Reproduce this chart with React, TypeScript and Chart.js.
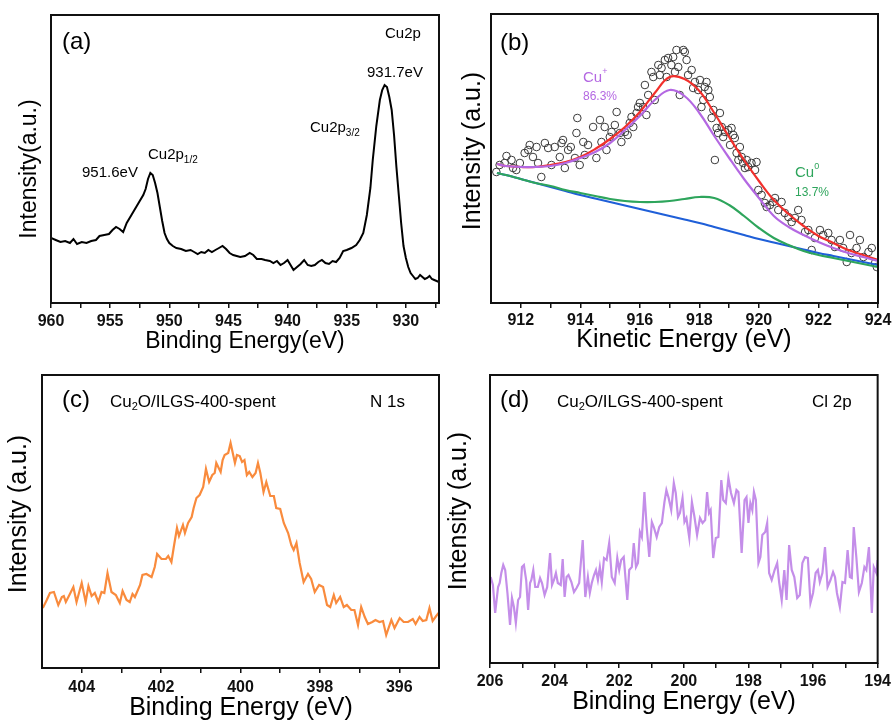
import React, { useEffect, useRef } from 'react';
import { Chart, registerables } from 'chart.js';
Chart.register(...registerables);

const FONT = '"Liberation Sans", Arial, Helvetica, sans-serif';

// ---------- Panel (a): Cu2p survey ----------
const aEnergy = [960.0, 959.6, 959.2, 958.8, 958.4, 958.1, 957.8, 957.4, 957.0, 956.6, 956.2, 955.9, 955.5, 955.1, 954.8, 954.5, 954.2, 953.9, 953.6, 953.2, 952.8, 952.5, 952.2, 952.0, 951.8, 951.6, 951.4, 951.2, 951.0, 950.8, 950.6, 950.4, 950.2, 950.0, 949.7, 949.4, 949.0, 948.6, 948.2, 947.9, 947.6, 947.3, 947.0, 946.7, 946.4, 946.1, 945.8, 945.5, 945.2, 944.9, 944.6, 944.3, 944.0, 943.6, 943.2, 942.9, 942.6, 942.2, 941.9, 941.5, 941.2, 940.9, 940.6, 940.3, 940.0, 939.8, 939.5, 939.2, 938.9, 938.6, 938.3, 938.0, 937.7, 937.4, 937.1, 936.8, 936.5, 936.2, 935.9, 935.6, 935.3, 935.0, 934.6, 934.2, 933.9, 933.6, 933.3, 933.0, 932.8, 932.5, 932.2, 932.0, 931.8, 931.6, 931.4, 931.2, 931.0, 930.8, 930.6, 930.4, 930.2, 930.0, 929.8, 929.6, 929.4, 929.2, 929.0, 928.8, 928.6, 928.4, 928.2, 928.0, 927.8, 927.6, 927.4, 927.2];
const aIntensity = [65, 63, 61, 62, 60, 64, 59, 61, 60, 62, 63, 67, 68, 69, 73, 76, 74, 71, 80, 88, 96, 102, 108, 114, 124, 130, 128, 120, 110, 96, 82, 70, 64, 60, 57, 55, 54, 52, 53, 51, 49, 51, 50, 53, 51, 53, 55, 57, 54, 50, 48, 47, 46, 47, 50, 48, 44, 44, 43, 42, 40, 42, 38, 40, 43, 39, 33, 36, 39, 43, 38, 37, 38, 41, 43, 40, 39, 42, 41, 45, 52, 53, 55, 58, 63, 70, 88, 115, 143, 177, 203, 213, 218, 216, 206, 193, 168, 136, 108, 80, 57, 45, 36, 30, 27, 24, 25, 28, 26, 24, 25, 27, 24, 23, 22, 21];
const aTicks = [960, 957.5, 955, 952.5, 950, 947.5, 945, 942.5, 940, 937.5, 935, 932.5, 930, 927.5];
const aTickLabels = [960, 955, 950, 945, 940, 935, 930];

// ---------- Panel (b): Cu LMM ----------
const bScatterE = [911.18, 911.29, 911.46, 911.52, 911.69, 911.74, 911.85, 911.97, 912.13, 912.25, 912.30, 912.41, 912.53, 912.58, 912.69, 912.81, 912.92, 913.03, 913.14, 913.31, 913.37, 913.42, 913.48, 913.59, 913.68, 913.82, 913.87, 913.90, 913.98, 914.10, 914.15, 914.26, 914.43, 914.54, 914.66, 914.71, 914.82, 914.88, 914.99, 915.05, 915.16, 915.22, 915.33, 915.38, 915.50, 915.59, 915.66, 915.72, 915.78, 915.89, 915.94, 916.00, 916.11, 916.17, 916.22, 916.28, 916.39, 916.45, 916.50, 916.62, 916.67, 916.73, 916.84, 916.90, 916.95, 917.06, 917.12, 917.18, 917.23, 917.29, 917.34, 917.46, 917.51, 917.57, 917.62, 917.74, 917.79, 917.85, 917.96, 918.02, 918.07, 918.13, 918.18, 918.24, 918.30, 918.35, 918.41, 918.47, 918.52, 918.58, 918.63, 918.69, 918.75, 918.80, 918.86, 918.97, 919.03, 919.08, 919.14, 919.19, 919.25, 919.31, 919.36, 919.42, 919.47, 919.53, 919.59, 919.64, 919.75, 919.87, 919.92, 919.98, 920.09, 920.20, 920.26, 920.37, 920.48, 920.54, 920.65, 920.76, 920.87, 920.99, 921.10, 921.21, 921.32, 921.43, 921.55, 921.66, 921.77, 921.88, 922.05, 922.16, 922.33, 922.44, 922.55, 922.72, 922.83, 922.95, 923.06, 923.11, 923.28, 923.39, 923.51, 923.68, 923.79, 923.90, 923.96];
const bScatterI = [131, 138, 140, 147, 143, 135, 133, 140, 150, 153, 158, 146, 156, 140, 126, 160, 155, 138, 156, 146, 160, 163, 135, 153, 156, 145, 170, 185, 138, 161, 148, 158, 176, 145, 183, 161, 176, 153, 166, 171, 178, 191, 170, 161, 171, 168, 180, 186, 176, 190, 196, 200, 196, 218, 188, 208, 231, 226, 203, 238, 228, 235, 243, 226, 245, 238, 246, 231, 253, 236, 208, 253, 251, 243, 228, 233, 215, 221, 213, 223, 196, 203, 216, 221, 213, 206, 185, 193, 143, 175, 170, 190, 176, 166, 171, 173, 158, 175, 168, 165, 150, 143, 156, 146, 140, 135, 143, 136, 140, 133, 141, 113, 108, 100, 96, 98, 101, 105, 93, 101, 90, 86, 81, 85, 93, 83, 71, 73, 53, 65, 73, 68, 70, 63, 56, 63, 55, 41, 68, 50, 55, 63, 46, 51, 55, 40, 36];
const bFitE = [911.2, 911.5, 912, 912.5, 913, 913.5, 914, 914.5, 915, 915.5, 916, 916.5, 917, 917.5, 918, 918.5, 919, 919.5, 920, 920.5, 921, 921.5, 922, 922.5, 923, 923.5, 924];
const bEnvelope = [139, 137, 136, 136, 138, 141, 146, 154, 164, 176, 191, 210, 226, 224, 212, 190, 166, 143, 122, 103, 89, 77, 67, 60, 53, 48, 43];
const bCuPlus = [139, 137, 136, 136, 137, 140, 145, 151, 160, 173, 187, 203, 213, 207, 190, 167, 145, 124, 105, 87, 76, 68, 61, 55, 50, 46, 42];
const bCu0 = [130, 128, 124, 120, 117, 113, 110, 107, 104, 102, 101, 101, 102, 104, 106, 105, 98, 87, 75, 65, 58, 52, 48, 45, 42, 39, 36];
const bBackground = [130, 128, 124, 120, 116, 112, 108, 104.5, 101, 97.5, 94, 90.5, 87, 83.5, 80, 76, 72, 68, 64, 60.5, 57, 53.5, 50, 47, 44, 41, 38];
const bTicks = [912, 913, 914, 915, 916, 917, 918, 919, 920, 921, 922, 923, 924];
const bTickLabels = [912, 914, 916, 918, 920, 922, 924];

// ---------- Panel (c): N 1s ----------
const cEnergy = [404.98, 404.88, 404.80, 404.70, 404.59, 404.50, 404.45, 404.40, 404.31, 404.21, 404.13, 404.00, 403.90, 403.83, 403.75, 403.67, 403.58, 403.50, 403.43, 403.35, 403.25, 403.14, 403.04, 402.97, 402.87, 402.79, 402.72, 402.66, 402.53, 402.47, 402.37, 402.24, 402.16, 402.10, 401.99, 401.88, 401.82, 401.74, 401.68, 401.60, 401.55, 401.45, 401.40, 401.32, 401.23, 401.18, 401.11, 401.03, 400.94, 400.87, 400.79, 400.71, 400.65, 400.61, 400.50, 400.45, 400.40, 400.31, 400.25, 400.14, 400.09, 400.02, 399.96, 399.90, 399.84, 399.78, 399.70, 399.62, 399.56, 399.50, 399.42, 399.35, 399.25, 399.16, 399.10, 399.00, 398.91, 398.80, 398.72, 398.66, 398.59, 398.51, 398.41, 398.30, 398.22, 398.13, 398.02, 397.92, 397.82, 397.74, 397.65, 397.59, 397.49, 397.40, 397.32, 397.21, 397.13, 397.04, 396.96, 396.87, 396.79, 396.68, 396.60, 396.50, 396.41, 396.33, 396.20, 396.12, 395.99, 395.89, 395.78, 395.66, 395.59, 395.49, 395.41, 395.32, 395.24, 395.16, 395.07, 395.01];
const cIntensity = [60, 68, 75, 76, 63, 71, 72, 66, 73, 81, 66, 85, 66, 82, 72, 75, 66, 76, 75, 95, 76, 73, 65, 77, 68, 66, 74, 71, 83, 93, 94, 91, 101, 114, 109, 109, 112, 106, 121, 140, 132, 143, 135, 145, 151, 160, 170, 173, 181, 199, 186, 193, 195, 205, 196, 208, 213, 215, 225, 205, 213, 212, 206, 208, 193, 196, 191, 195, 205, 195, 176, 186, 172, 172, 160, 159, 145, 135, 123, 118, 125, 105, 86, 94, 89, 76, 83, 81, 63, 61, 73, 65, 71, 61, 63, 58, 58, 43, 61, 51, 44, 46, 48, 46, 47, 33, 48, 40, 50, 46, 46, 49, 44, 51, 47, 48, 60, 47, 52, 55];
const cTicks = [404, 403, 402, 401, 400, 399, 398, 397, 396];
const cTickLabels = [404, 402, 400, 398, 396];

// ---------- Panel (d): Cl 2p ----------
const dEnergy = [205.98, 205.91, 205.84, 205.75, 205.70, 205.65, 205.59, 205.53, 205.46, 205.38, 205.32, 205.26, 205.20, 205.13, 205.07, 205.01, 204.95, 204.88, 204.82, 204.76, 204.72, 204.66, 204.60, 204.52, 204.45, 204.39, 204.31, 204.23, 204.14, 204.08, 204.02, 203.96, 203.90, 203.81, 203.75, 203.69, 203.63, 203.57, 203.48, 203.40, 203.32, 203.24, 203.13, 203.05, 202.97, 202.91, 202.85, 202.78, 202.72, 202.66, 202.60, 202.54, 202.47, 202.39, 202.31, 202.23, 202.14, 202.06, 202.00, 201.94, 201.86, 201.75, 201.69, 201.61, 201.55, 201.48, 201.42, 201.36, 201.30, 201.22, 201.15, 201.07, 200.99, 200.93, 200.84, 200.76, 200.68, 200.60, 200.54, 200.47, 200.39, 200.31, 200.25, 200.18, 200.12, 200.04, 199.98, 199.92, 199.83, 199.75, 199.67, 199.59, 199.50, 199.42, 199.34, 199.28, 199.22, 199.17, 199.09, 199.01, 198.93, 198.84, 198.78, 198.70, 198.62, 198.54, 198.45, 198.37, 198.31, 198.21, 198.12, 198.06, 198.00, 197.94, 197.88, 197.83, 197.77, 197.69, 197.63, 197.57, 197.48, 197.42, 197.36, 197.28, 197.19, 197.11, 197.05, 196.97, 196.89, 196.82, 196.74, 196.66, 196.58, 196.49, 196.41, 196.33, 196.25, 196.16, 196.08, 196.00, 195.92, 195.85, 195.79, 195.71, 195.63, 195.55, 195.46, 195.38, 195.32, 195.26, 195.17, 195.09, 195.01, 194.93, 194.86, 194.80, 194.74, 194.66, 194.58, 194.49, 194.41, 194.35, 194.27, 194.18, 194.12, 194.04, 194.00];
const dIntensity = [86, 78, 50, 76, 80, 90, 98, 93, 70, 38, 65, 56, 40, 63, 66, 96, 98, 83, 53, 80, 83, 93, 76, 76, 85, 80, 68, 76, 110, 78, 83, 90, 80, 78, 104, 66, 86, 88, 81, 71, 75, 80, 123, 66, 86, 70, 80, 88, 93, 83, 96, 81, 105, 103, 120, 86, 80, 105, 93, 103, 106, 63, 93, 96, 120, 96, 100, 131, 126, 171, 136, 106, 141, 136, 126, 136, 140, 161, 173, 165, 153, 180, 170, 146, 150, 165, 141, 145, 125, 161, 146, 128, 145, 140, 143, 171, 150, 153, 105, 125, 126, 183, 163, 160, 185, 170, 160, 173, 171, 110, 163, 166, 140, 160, 153, 171, 163, 100, 106, 128, 131, 140, 90, 83, 93, 100, 81, 63, 93, 63, 118, 93, 86, 65, 68, 100, 106, 105, 60, 70, 90, 93, 81, 90, 116, 76, 83, 91, 86, 70, 56, 81, 80, 113, 86, 85, 136, 106, 71, 80, 96, 93, 116, 50, 96, 90, 103];
const dTicks = [206, 205, 204, 203, 202, 201, 200, 199, 198, 197, 196, 195, 194];
const dTickLabels = [206, 204, 202, 200, 198, 196, 194];

// ---------- helpers ----------
type Seg = { t: string; s: number; dy?: number };
type Label = { x: number; y: number; segs: Seg[]; color?: string; align?: 'left' | 'center'; rot?: boolean };

const pts = (xs: number[], ys: number[]) => xs.map((x, i) => ({ x, y: ys[i] }));
const txt = (x: number, y: number, t: string, s: number, extra: Partial<Label> = {}): Label => ({ x, y, segs: [{ t, s }], ...extra });

function drawRich(ctx: CanvasRenderingContext2D, L: Label, ox: number, oy: number) {
  ctx.save();
  ctx.fillStyle = L.color || '#000';
  ctx.textBaseline = 'middle';
  ctx.textAlign = 'left';
  let w = 0;
  for (const s of L.segs) {
    ctx.font = `${s.s}px ${FONT}`;
    w += ctx.measureText(s.t).width;
  }
  ctx.translate(L.x - ox, L.y - oy);
  if (L.rot) ctx.rotate(-Math.PI / 2);
  let x = L.align === 'center' ? -w / 2 : 0;
  for (const s of L.segs) {
    ctx.font = `${s.s}px ${FONT}`;
    ctx.fillText(s.t, x, s.dy || 0);
    x += ctx.measureText(s.t).width;
  }
  ctx.restore();
}

type Spec = {
  ox: number; oy: number; w: number; h: number;
  left: number; top: number; right: number; bottom: number;
  xmin: number; xmax: number; reverse: boolean; ymax: number;
  ticks: number[]; tickLabels: number[]; tickPad: number;
  datasets: any[]; labels: Label[];
};

function buildConfig(sp: Spec): any {
  const decor = {
    id: 'decor',
    afterDraw(chart: any) {
      const { ctx, chartArea: a } = chart;
      ctx.save();
      ctx.strokeStyle = '#111';
      ctx.lineWidth = 2;
      ctx.strokeRect(a.left, a.top, a.right - a.left, a.bottom - a.top);
      ctx.restore();
      for (const L of sp.labels) drawRich(ctx, L, sp.ox, sp.oy);
    },
  };
  return {
    type: 'scatter',
    data: { datasets: sp.datasets },
    options: {
      animation: false,
      responsive: false,
      maintainAspectRatio: false,
      devicePixelRatio: 1,
      events: [],
      layout: { padding: { left: sp.left, top: sp.top, right: sp.w - sp.right, bottom: 0 } },
      plugins: { legend: { display: false }, tooltip: { enabled: false } },
      scales: {
        x: {
          type: 'linear',
          min: sp.xmin,
          max: sp.xmax,
          reverse: sp.reverse,
          afterBuildTicks: (ax: any) => { ax.ticks = sp.ticks.map((v) => ({ value: v })); },
          afterFit: (ax: any) => { ax.height = sp.h - sp.bottom; },
          grid: { display: true, drawOnChartArea: false, drawTicks: true, tickLength: 5, color: '#111', lineWidth: 1.5 },
          border: { display: false },
          ticks: {
            autoSkip: false,
            maxRotation: 0,
            padding: sp.tickPad,
            color: '#111',
            font: { family: FONT, size: 16, weight: 'bold' },
            callback: (v: number) => (sp.tickLabels.some((t) => Math.abs(t - v) < 1e-6) ? String(v) : ''),
          },
          title: { display: false },
        },
        y: { display: false, min: 0, max: sp.ymax },
      },
    },
    plugins: [decor],
  };
}

const lineDs = (data: any[], color: string, width: number, order: number, tension = 0) => ({
  data, showLine: true, borderColor: color, backgroundColor: color, borderWidth: width,
  pointRadius: 0, tension, order, fill: false,
});

const PURPLE = '#b468e2';
const GREEN = '#2ea55c';

const specs: Spec[] = [
  {
    ox: 0, oy: 0, w: 447, h: 361, left: 51, top: 15, right: 439, bottom: 303,
    xmin: 927.2, xmax: 960, reverse: true, ymax: 288,
    ticks: aTicks, tickLabels: aTickLabels, tickPad: 4,
    datasets: [lineDs(pts(aEnergy, aIntensity), '#000', 2, 0)],
    labels: [
      txt(62, 42, '(a)', 24),
      txt(385, 34, 'Cu2p', 15),
      txt(367, 73, '931.7eV', 15),
      { x: 310, y: 128, segs: [{ t: 'Cu2p', s: 15 }, { t: '3/2', s: 10, dy: 5 }] },
      txt(82, 173, '951.6eV', 15),
      { x: 148, y: 155, segs: [{ t: 'Cu2p', s: 15 }, { t: '1/2', s: 10, dy: 5 }] },
      txt(245, 342, 'Binding Energy(eV)', 23, { align: 'center' }),
      txt(30, 169, 'Intensity(a.u.)', 23, { align: 'center', rot: true }),
    ],
  },
  {
    ox: 447, oy: 0, w: 448, h: 361, left: 44, top: 14, right: 431, bottom: 303,
    xmin: 911, xmax: 924, reverse: false, ymax: 289,
    ticks: bTicks, tickLabels: bTickLabels, tickPad: 3,
    datasets: [
      {
        data: pts(bScatterE, bScatterI), showLine: false, pointRadius: 3.8, pointBorderWidth: 1,
        pointBorderColor: '#3a3a3a', pointBackgroundColor: 'rgba(0,0,0,0)', order: 4,
      },
      lineDs(pts(bFitE, bBackground), '#1f5fd8', 2.2, 3, 0.4),
      lineDs(pts(bFitE, bCu0), GREEN, 2.2, 2, 0.4),
      lineDs(pts(bFitE, bEnvelope), '#f2302c', 2.2, 1, 0.4),
      lineDs(pts(bFitE, bCuPlus), PURPLE, 2.2, 0, 0.4),
    ],
    labels: [
      txt(500, 43, '(b)', 24),
      { x: 583, y: 78, color: PURPLE, segs: [{ t: 'Cu', s: 15 }, { t: '+', s: 9, dy: -6 }] },
      txt(583, 97, '86.3%', 12, { color: PURPLE }),
      { x: 795, y: 173, color: GREEN, segs: [{ t: 'Cu', s: 15 }, { t: '0', s: 9, dy: -6 }] },
      txt(795, 193, '13.7%', 12, { color: GREEN }),
      txt(684, 340, 'Kinetic Energy (eV)', 25, { align: 'center' }),
      txt(473, 151, 'Intensity (a.u.)', 25, { align: 'center', rot: true }),
    ],
  },
  {
    ox: 0, oy: 361, w: 447, h: 361, left: 42, top: 14, right: 439, bottom: 307,
    xmin: 395, xmax: 405, reverse: true, ymax: 293,
    ticks: cTicks, tickLabels: cTickLabels, tickPad: 5,
    datasets: [lineDs(pts(cEnergy, cIntensity), '#f98b3d', 2.2, 0)],
    labels: [
      txt(62, 400, '(c)', 24),
      { x: 110, y: 402, segs: [{ t: 'Cu', s: 17 }, { t: '2', s: 11, dy: 5 }, { t: 'O/ILGS-400-spent', s: 17 }] },
      txt(370, 402, 'N 1s', 17),
      txt(241, 708, 'Binding Energy (eV)', 25, { align: 'center' }),
      txt(19, 514, 'Intensity (a.u.)', 25, { align: 'center', rot: true }),
    ],
  },
  {
    ox: 447, oy: 361, w: 448, h: 361, left: 43, top: 14, right: 431, bottom: 302,
    xmin: 194, xmax: 206, reverse: true, ymax: 288,
    ticks: dTicks, tickLabels: dTickLabels, tickPad: 4,
    datasets: [lineDs(pts(dEnergy, dIntensity), '#c48ee9', 2.2, 0)],
    labels: [
      txt(500, 400, '(d)', 24),
      { x: 557, y: 402, segs: [{ t: 'Cu', s: 17 }, { t: '2', s: 11, dy: 5 }, { t: 'O/ILGS-400-spent', s: 17 }] },
      txt(812, 402, 'Cl 2p', 17),
      txt(684, 702, 'Binding Energy (eV)', 25, { align: 'center' }),
      txt(459, 511, 'Intensity (a.u.)', 25, { align: 'center', rot: true }),
    ],
  },
];

function Panel({ sp }: { sp: Spec }) {
  const ref = useRef<HTMLCanvasElement | null>(null);
  useEffect(() => {
    if (!ref.current) return;
    const chart = new Chart(ref.current, buildConfig(sp));
    return () => chart.destroy();
  }, [sp]);
  return (
    <canvas
      ref={ref}
      width={sp.w}
      height={sp.h}
      style={{ position: 'absolute', left: sp.ox, top: sp.oy, width: sp.w, height: sp.h }}
    />
  );
}

export default function App() {
  return (
    <div style={{ position: 'absolute', left: 0, top: 0, width: 895, height: 722, background: '#fff', overflow: 'hidden' }}>
      {specs.map((sp, i) => (
        <Panel key={i} sp={sp} />
      ))}
    </div>
  );
}
